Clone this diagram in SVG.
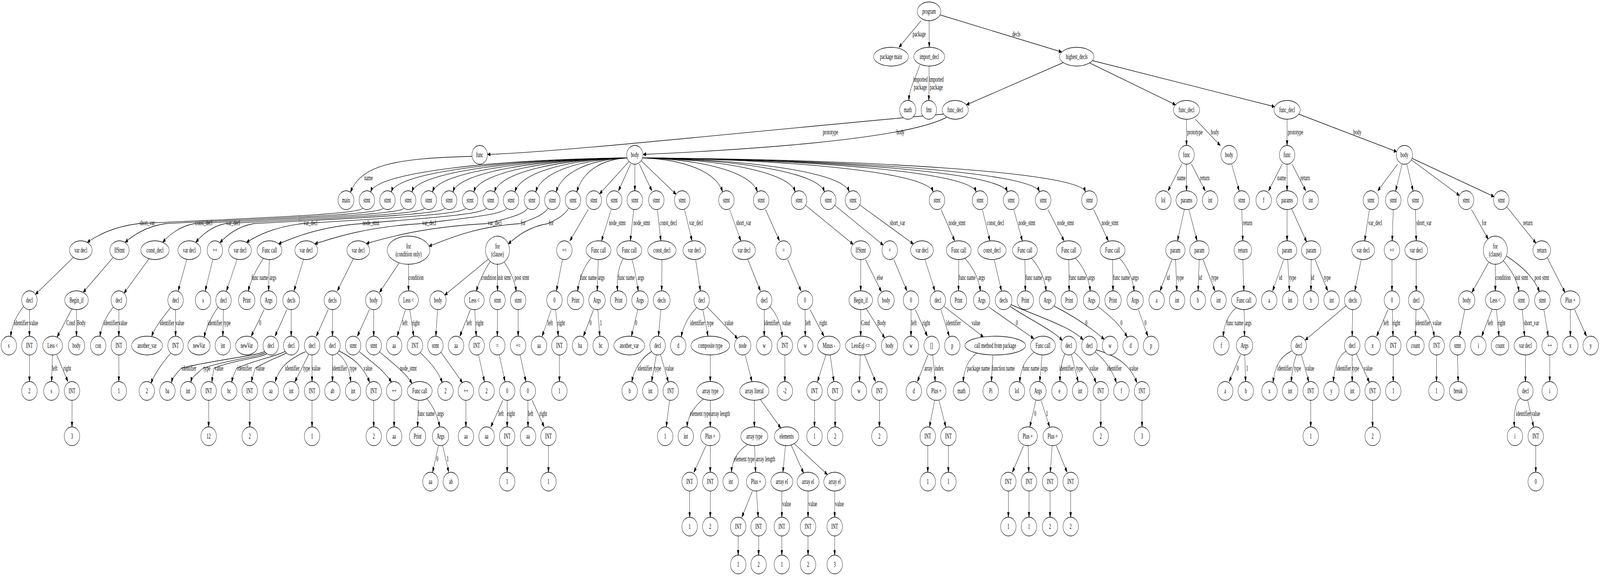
<svg xmlns="http://www.w3.org/2000/svg" width="7445" height="1476" viewBox="0 0 7445 1476" preserveAspectRatio="none">
<defs>
<marker id="a" markerWidth="14" markerHeight="10" refX="13" refY="4.67" orient="auto" markerUnits="userSpaceOnUse"><path d="M0,0 L13.3,4.67 L0,9.33 Z" fill="#000" stroke="#000" stroke-width="1"/></marker>
<style>
svg{width:100vw;height:100vh}
.node ellipse{fill:#fff;stroke:#000;stroke-width:1.33}
text{font-family:"Liberation Serif","Times New Roman",serif;font-size:18.67px;text-anchor:middle;fill:#000}
#edges path{fill:none;stroke:#000;stroke-width:1.33;marker-end:url(#a)}
</style>
</defs>
<rect width="7445" height="1476" fill="#fff"/>
<g id="edges">
<path d="M4286,53 L4183,121"/>
<path d="M4323,53 L4324,121"/>
<path d="M4374,38 L4940,133"/>
<path d="M4280,166 C4262,200 4232,222 4229,257"/>
<path d="M4323,169 L4322,257"/>
<path d="M4948,160 L4497,268"/>
<path d="M5070,161 L5470,268"/>
<path d="M5083,155 L5931,273"/>
<path d="M4390,292 C3600,330 2600,390 2269,395"/>
<path d="M4405,300 C4200,360 3400,385 2993,395"/>
<path d="M5521,305 L5521,372"/>
<path d="M5562,305 L5678,372"/>
<path d="M5989,305 L5989,372"/>
<path d="M6043,292 L6499,388"/>
<path d="M2197,400 C1850,405 1680,420 1631,492"/>
<path d="M5499,420 L5435,488"/>
<path d="M5521,420 L5521,488"/>
<path d="M5544,420 L5608,488"/>
<path d="M5731,420 L5766,488"/>
<path d="M5966,420 L5903,488"/>
<path d="M5989,420 L5989,488"/>
<path d="M6012,420 L6076,488"/>
<path d="M6503,420 L6411,488"/>
<path d="M6524,420 L6494,488"/>
<path d="M6546,420 L6575,488"/>
<path d="M6567,409 L6791,500"/>
<path d="M6570,405 L6952,503"/>
<path d="M2918,404 C2312,408 1752,440 1725,491"/>
<path d="M2918,404 C2360,408 1848,440 1821,491"/>
<path d="M2918,404 C2408,408 1944,440 1917,491"/>
<path d="M2918,404 C2456,408 2040,440 2013,491"/>
<path d="M2918,404 C2504,408 2135,440 2108,491"/>
<path d="M2918,404 C2552,408 2232,440 2205,491"/>
<path d="M2918,404 C2600,408 2328,440 2301,491"/>
<path d="M2918,404 C2648,408 2423,440 2396,491"/>
<path d="M2918,404 C2696,408 2520,440 2493,491"/>
<path d="M2918,404 C2744,408 2615,440 2588,491"/>
<path d="M2918,404 C2792,408 2711,440 2684,491"/>
<path d="M2927,413 L2790,496"/>
<path d="M2934,420 L2878,488"/>
<path d="M2954,420 L2954,488"/>
<path d="M2975,420 L3033,488"/>
<path d="M2983,411 L3146,497"/>
<path d="M2990,404 C3185,408 3335,440 3362,491"/>
<path d="M2990,404 C3266,408 3497,440 3524,491"/>
<path d="M2990,404 C3354,408 3673,440 3700,491"/>
<path d="M2990,404 C3422,408 3809,440 3836,491"/>
<path d="M2990,404 C3480,408 3924,440 3951,491"/>
<path d="M2990,404 C3675,408 4315,440 4342,491"/>
<path d="M2990,404 C3775,408 4515,440 4542,491"/>
<path d="M2990,404 C3848,408 4660,440 4687,491"/>
<path d="M2990,404 C3922,408 4809,440 4836,491"/>
<path d="M2990,404 C4030,408 5024,440 5051,491"/>
<path d="M1687,533 C1667,550 1070,560 645,572 C526,580 454,602 406,620"/>
<path d="M1783,533 C1763,550 1183,560 770,572 C676,580 620,602 582,620"/>
<path d="M1879,533 C1859,550 1302,560 904,572 C830,580 786,602 757,620"/>
<path d="M1975,533 C1955,550 1427,560 1048,572 C980,580 938,602 911,620"/>
<path d="M2070,533 C2050,550 1544,560 1180,572 C1102,580 1054,603 1023,621"/>
<path d="M2167,533 C2147,550 1720,560 1409,572 C1278,580 1199,602 1147,620"/>
<path d="M2263,533 C2243,550 1923,560 1683,572 C1490,580 1373,606 1296,624"/>
<path d="M2358,533 C2338,550 2128,560 1961,572 C1713,580 1564,606 1465,624"/>
<path d="M2455,533 C2435,550 2350,560 2266,572 C1986,580 1817,605 1705,623"/>
<path d="M2550,533 C2530,550 2479,560 2419,572 C2208,580 2081,612 1996,630"/>
<path d="M2646,533 C2626,550 2596,560 2550,572 C2458,580 2402,606 2365,624"/>
<path d="M2737,536 L2652,616"/>
<path d="M2844,536 L2799,616"/>
<path d="M2949,536 L2933,616"/>
<path d="M3059,536 L3075,616"/>
<path d="M3185,536 L3220,616"/>
<path d="M3395,536 L3447,616"/>
<path d="M3562,536 L3627,616"/>
<path d="M3748,525 L3970,625"/>
<path d="M3884,525 L4110,627"/>
<path d="M4000,524 L4250,624"/>
<path d="M4379,536 L4442,616"/>
<path d="M4571,536 L4606,616"/>
<path d="M4717,536 L4757,616"/>
<path d="M4876,536 L4951,616"/>
<path d="M5089,536 L5157,616"/>
<path d="M5778,536 L5783,616"/>
<path d="M6372,536 L6350,616"/>
<path d="M6483,536 L6478,616"/>
<path d="M6586,536 L6590,616"/>
<path d="M6847,536 L6925,612"/>
<path d="M7011,529 L7147,622"/>
<path d="M342,658 L165,753"/>
<path d="M110,783 C80,805 55,830 50,861"/>
<path d="M137,792 L137,860"/>
<path d="M137,908 L137,976"/>
<path d="M527,658 L387,748"/>
<path d="M335,790 L266,862"/>
<path d="M356,792 L356,860"/>
<path d="M244,908 L240,976"/>
<path d="M264,908 L316,976"/>
<path d="M335,1024 L335,1092"/>
<path d="M693,662 L577,750"/>
<path d="M527,785 C500,805 472,830 465,861"/>
<path d="M553,792 L553,860"/>
<path d="M553,908 L553,976"/>
<path d="M869,664 L829,744"/>
<path d="M796,785 C770,805 720,835 706,861"/>
<path d="M817,792 L817,860"/>
<path d="M797,902 C760,925 720,955 702,981"/>
<path d="M990,664 L955,744"/>
<path d="M1103,664 L1054,744"/>
<path d="M1015,785 C990,805 960,835 950,863"/>
<path d="M1040,792 L1037,860"/>
<path d="M1226,661 C1195,685 1165,720 1155,745"/>
<path d="M1253,664 L1250,744"/>
<path d="M1229,792 L1169,860"/>
<path d="M1412,664 L1368,744"/>
<path d="M1335,792 L1280,860"/>
<path d="M1355,792 L1355,860"/>
<path d="M1232,899 C1192,911 999,920 843,942 C825,954 803,964 798,979"/>
<path d="M1236,902 C1196,914 1061,920 944,942 C922,954 893,963 888,978"/>
<path d="M1242,905 C1202,917 1094,920 996,942 C992,954 989,963 986,978"/>
<path d="M1327,899 C1287,911 1191,920 1101,942 C1092,954 1083,963 1078,978"/>
<path d="M1332,903 C1300,913 1246,922 1188,942 C1181,954 1175,962 1170,977"/>
<path d="M971,1024 L971,1092"/>
<path d="M1162,1024 L1162,1092"/>
<path d="M1644,662 L1570,744"/>
<path d="M1527,792 L1472,860"/>
<path d="M1547,792 L1547,860"/>
<path d="M1420,900 C1340,920 1300,940 1280,977"/>
<path d="M1438,905 L1372,977"/>
<path d="M1452,908 L1452,976"/>
<path d="M1547,908 L1547,976"/>
<path d="M1568,903 C1600,915 1625,935 1632,977"/>
<path d="M1575,897 C1640,915 1690,935 1720,978"/>
<path d="M1452,1024 L1452,1092"/>
<path d="M1739,1024 L1739,1092"/>
<path d="M1858,672 L1766,748"/>
<path d="M1901,676 L1901,744"/>
<path d="M1719,792 L1663,860"/>
<path d="M1739,792 L1739,860"/>
<path d="M1672,900 C1730,925 1790,950 1822,978"/>
<path d="M1766,900 C1830,930 1890,955 1917,981"/>
<path d="M1887,792 L1848,860"/>
<path d="M1907,792 L1925,860"/>
<path d="M1955,902 C2000,925 2040,950 2058,979"/>
<path d="M1834,1024 L1834,1092"/>
<path d="M1947,1024 L1943,1092"/>
<path d="M1985,1019 C2010,1035 2035,1060 2046,1092"/>
<path d="M2040,1140 L2013,1208"/>
<path d="M2060,1140 L2088,1208"/>
<path d="M2272,663 L2069,755"/>
<path d="M2282,668 C2255,690 2230,720 2216,745"/>
<path d="M2315,676 L2315,744"/>
<path d="M2346,670 C2370,690 2395,715 2402,746"/>
<path d="M2036,792 L2028,860"/>
<path d="M2052,901 L2152,979"/>
<path d="M2168,1024 L2168,1092"/>
<path d="M2189,792 L2140,860"/>
<path d="M2209,792 L2216,860"/>
<path d="M2227,908 L2254,976"/>
<path d="M2315,792 L2314,860"/>
<path d="M2323,908 L2350,976"/>
<path d="M2340,1024 L2284,1092"/>
<path d="M2360,1024 L2360,1092"/>
<path d="M2360,1140 L2360,1208"/>
<path d="M2411,792 L2411,860"/>
<path d="M2420,908 L2447,976"/>
<path d="M2456,1024 L2457,1092"/>
<path d="M2476,1024 L2532,1092"/>
<path d="M2552,1140 L2552,1208"/>
<path d="M2617,664 L2589,744"/>
<path d="M2565,792 L2523,860"/>
<path d="M2585,792 L2598,860"/>
<path d="M2603,908 L2603,976"/>
<path d="M2750,661 C2720,680 2695,710 2688,745"/>
<path d="M2784,664 L2779,744"/>
<path d="M2762,792 L2715,860"/>
<path d="M2782,792 L2791,860"/>
<path d="M2900,662 C2878,682 2868,712 2874,744"/>
<path d="M2940,663 C2952,685 2962,715 2970,745"/>
<path d="M2968,792 L2938,860"/>
<path d="M3080,664 L3079,744"/>
<path d="M3075,792 L3064,860"/>
<path d="M3032,899 C2985,915 2950,945 2940,977"/>
<path d="M3054,908 L3032,976"/>
<path d="M3073,906 L3110,977"/>
<path d="M3116,1024 L3100,1092"/>
<path d="M3237,664 L3259,744"/>
<path d="M3243,786 C3210,805 3180,830 3170,862"/>
<path d="M3270,792 L3295,860"/>
<path d="M3290,785 L3432,866"/>
<path d="M3305,908 L3305,976"/>
<path d="M3272,1021 C3230,1040 3200,1065 3197,1092"/>
<path d="M3305,1024 L3305,1092"/>
<path d="M3285,1140 L3229,1208"/>
<path d="M3305,1140 L3305,1208"/>
<path d="M3209,1256 L3209,1323"/>
<path d="M3305,1256 L3305,1323"/>
<path d="M3467,908 L3499,976"/>
<path d="M3510,1024 L3510,1092"/>
<path d="M3538,1022 L3633,1095"/>
<path d="M3478,1137 C3430,1155 3405,1180 3404,1208"/>
<path d="M3511,1140 L3516,1208"/>
<path d="M3501,1256 L3452,1323"/>
<path d="M3520,1256 L3528,1323"/>
<path d="M3435,1371 L3435,1420"/>
<path d="M3530,1371 L3530,1420"/>
<path d="M3655,1140 L3643,1208"/>
<path d="M3681,1138 L3739,1210"/>
<path d="M3696,1135 L3850,1214"/>
<path d="M3638,1256 L3638,1323"/>
<path d="M3760,1256 L3760,1323"/>
<path d="M3884,1256 L3884,1323"/>
<path d="M3638,1371 L3638,1420"/>
<path d="M3760,1371 L3760,1420"/>
<path d="M3884,1371 L3884,1420"/>
<path d="M3480,664 L3538,744"/>
<path d="M3556,792 L3556,860"/>
<path d="M3582,784 C3610,800 3632,825 3640,862"/>
<path d="M3652,908 L3652,976"/>
<path d="M3665,664 L3727,744"/>
<path d="M3746,792 L3747,860"/>
<path d="M3769,792 L3834,860"/>
<path d="M3843,908 L3804,976"/>
<path d="M3863,908 L3880,976"/>
<path d="M3790,1024 L3790,1092"/>
<path d="M3886,1024 L3886,1092"/>
<path d="M4005,664 L4005,744"/>
<path d="M4027,664 L4101,746"/>
<path d="M4005,792 L4005,860"/>
<path d="M4030,789 L4117,865"/>
<path d="M4003,908 L3999,976"/>
<path d="M4023,908 L4074,976"/>
<path d="M4092,1024 L4092,1092"/>
<path d="M4159,664 L4220,744"/>
<path d="M4239,792 L4239,860"/>
<path d="M4259,792 L4315,860"/>
<path d="M4318,908 L4269,976"/>
<path d="M4340,908 L4352,976"/>
<path d="M4349,1024 L4325,1092"/>
<path d="M4369,1024 L4401,1092"/>
<path d="M4317,1140 L4317,1208"/>
<path d="M4413,1140 L4413,1208"/>
<path d="M4304,664 L4350,744"/>
<path d="M4378,792 L4417,860"/>
<path d="M4393,784 L4576,862"/>
<path d="M4545,903 C4505,920 4485,945 4482,977"/>
<path d="M4620,908 L4613,976"/>
<path d="M4461,664 L4460,744"/>
<path d="M4490,661 C4530,685 4555,715 4562,745"/>
<path d="M4600,785 L4810,866"/>
<path d="M4812,901 C4770,918 4748,945 4745,978"/>
<path d="M4849,908 L4838,976"/>
<path d="M4820,1024 L4792,1092"/>
<path d="M4844,1024 L4884,1092"/>
<path d="M4763,1140 L4711,1208"/>
<path d="M4784,1140 L4787,1208"/>
<path d="M4896,1140 L4887,1208"/>
<path d="M4915,1140 L4965,1208"/>
<path d="M4692,1256 L4692,1323"/>
<path d="M4788,1256 L4788,1323"/>
<path d="M4886,1256 L4886,1323"/>
<path d="M4982,1256 L4982,1323"/>
<path d="M4626,664 L4660,744"/>
<path d="M4700,784 C4800,820 4900,845 4943,871"/>
<path d="M4703,779 C4830,810 4980,835 5040,869"/>
<path d="M4955,905 C4940,925 4932,950 4932,976"/>
<path d="M4985,907 L5017,977"/>
<path d="M4998,901 C5040,920 5080,950 5100,979"/>
<path d="M5095,900 C5140,920 5175,945 5195,979"/>
<path d="M5100,895 C5200,910 5260,935 5290,979"/>
<path d="M5122,1024 L5122,1092"/>
<path d="M5314,1024 L5314,1092"/>
<path d="M4769,664 L4771,744"/>
<path d="M4800,661 C4840,685 4862,715 4868,745"/>
<path d="M4905,783 C5000,810 5080,840 5138,868"/>
<path d="M4973,664 L4975,744"/>
<path d="M5005,661 C5045,685 5068,715 5073,745"/>
<path d="M5108,784 C5170,810 5210,830 5245,862"/>
<path d="M5177,664 L5179,744"/>
<path d="M5210,661 C5250,685 5272,715 5277,745"/>
<path d="M5297,792 L5341,860"/>
<path d="M5511,536 L5479,616"/>
<path d="M5532,536 L5570,616"/>
<path d="M5453,664 L5398,744"/>
<path d="M5470,664 L5476,744"/>
<path d="M5580,664 L5575,744"/>
<path d="M5598,664 L5653,744"/>
<path d="M5783,664 L5788,744"/>
<path d="M5752,787 C5715,805 5695,830 5692,861"/>
<path d="M5789,792 L5791,860"/>
<path d="M5772,908 L5720,976"/>
<path d="M5792,908 L5796,976"/>
<path d="M5989,536 L5989,616"/>
<path d="M6010,534 L6080,619"/>
<path d="M5973,664 L5922,744"/>
<path d="M5992,664 L6000,744"/>
<path d="M6101,664 L6100,744"/>
<path d="M6119,664 L6178,744"/>
<path d="M6334,664 L6304,744"/>
<path d="M6264,782 L6073,870"/>
<path d="M6294,792 L6292,860"/>
<path d="M6010,898 C5955,912 5930,940 5924,979"/>
<path d="M6033,907 C6020,925 6012,950 6008,977"/>
<path d="M6055,907 L6090,977"/>
<path d="M6099,1024 L6099,1092"/>
<path d="M6263,898 C6230,910 6210,935 6204,977"/>
<path d="M6292,908 L6292,976"/>
<path d="M6311,905 L6372,978"/>
<path d="M6387,1024 L6387,1092"/>
<path d="M6477,664 L6477,744"/>
<path d="M6458,792 L6406,860"/>
<path d="M6479,792 L6482,860"/>
<path d="M6483,908 L6483,976"/>
<path d="M6590,664 L6590,744"/>
<path d="M6589,792 L6586,860"/>
<path d="M6613,786 C6640,800 6665,830 6674,861"/>
<path d="M6685,908 L6684,976"/>
<path d="M6926,672 L6849,748"/>
<path d="M6958,676 L6958,744"/>
<path d="M6996,667 C7030,690 7060,715 7068,746"/>
<path d="M7010,655 C7080,680 7140,710 7163,747"/>
<path d="M6816,792 L6791,860"/>
<path d="M6782,908 L6785,976"/>
<path d="M6942,792 L6895,860"/>
<path d="M6963,792 L6975,860"/>
<path d="M7083,792 L7094,860"/>
<path d="M7098,908 L7098,976"/>
<path d="M7074,1018 C7050,1030 7042,1060 7047,1092"/>
<path d="M7108,1023 L7136,1092"/>
<path d="M7146,1140 L7146,1208"/>
<path d="M7184,792 L7204,860"/>
<path d="M7211,908 L7211,976"/>
<path d="M7199,659 L7282,748"/>
<path d="M7307,792 L7307,860"/>
<path d="M7327,792 L7382,860"/>
<g id="edge-labels">
<text x="4277" y="93">package</text>
<text x="4729" y="93">decls</text>
<text x="4283" y="209">imported<tspan x="4283" dy="20">package</tspan></text>
<text x="4357" y="209">imported<tspan x="4357" dy="20">package</tspan></text>
<text x="3864" y="344">prototype</text>
<text x="4190" y="344">body</text>
<text x="5560" y="344">prototype</text>
<text x="5653" y="344">body</text>
<text x="6028" y="344">prototype</text>
<text x="6316" y="344">body</text>
<text x="1715" y="461">name</text>
<text x="5497" y="461">name</text>
<text x="5606" y="461">return</text>
<text x="5964" y="461">name</text>
<text x="6073" y="461">return</text>
<text x="685" y="576">short_var</text>
<text x="948" y="576">const_decl</text>
<text x="1085" y="576">var_decl</text>
<text x="1445" y="576">var_decl</text>
<text x="1726" y="576">node_stmt</text>
<text x="1997" y="576">var_decl</text>
<text x="2302" y="576">var_decl</text>
<text x="2434" y="576">for</text>
<text x="2565" y="576">for</text>
<text x="2872" y="576">node_stmt</text>
<text x="2986" y="576">node_stmt</text>
<text x="3110" y="576">const_decl</text>
<text x="3239" y="576">var_decl</text>
<text x="3460" y="576">short_var</text>
<text x="4176" y="576">short_var</text>
<text x="4453" y="576">node_stmt</text>
<text x="4632" y="576">const_decl</text>
<text x="4778" y="576">node_stmt</text>
<text x="4958" y="576">node_stmt</text>
<text x="5165" y="576">node_stmt</text>
<text x="5805" y="576">return</text>
<text x="6399" y="576">var_decl</text>
<text x="6626" y="576">short_var</text>
<text x="6906" y="576">for</text>
<text x="7109" y="576">return</text>
<text x="1209" y="716">func name</text>
<text x="1270" y="716">args</text>
<text x="1936" y="716">condition</text>
<text x="2274" y="716">condition</text>
<text x="2346" y="716">init stmt</text>
<text x="2428" y="716">post stmt</text>
<text x="2738" y="716">func name</text>
<text x="2798" y="716">args</text>
<text x="2914" y="716">func name</text>
<text x="2982" y="716">args</text>
<text x="4094" y="716">else</text>
<text x="4500" y="716">func name</text>
<text x="4568" y="716">args</text>
<text x="4810" y="716">func name</text>
<text x="4877" y="716">args</text>
<text x="5014" y="716">func name</text>
<text x="5079" y="716">args</text>
<text x="5218" y="716">func name</text>
<text x="5283" y="716">args</text>
<text x="5436" y="716">id</text>
<text x="5492" y="716">type</text>
<text x="5586" y="716">id</text>
<text x="5653" y="716">type</text>
<text x="5959" y="716">id</text>
<text x="6015" y="716">type</text>
<text x="6108" y="716">id</text>
<text x="6176" y="716">type</text>
<text x="6994" y="716">condition</text>
<text x="7080" y="716">init stmt</text>
<text x="7174" y="716">post stmt</text>
<text x="99" y="832">identifier</text>
<text x="157" y="832">value</text>
<text x="329" y="832">Cond</text>
<text x="378" y="832">Body</text>
<text x="516" y="832">identifier</text>
<text x="572" y="832">value</text>
<text x="777" y="832">identifier</text>
<text x="837" y="832">value</text>
<text x="1000" y="832">identifier</text>
<text x="1057" y="832">type</text>
<text x="1210" y="832">0</text>
<text x="1884" y="832">left</text>
<text x="1935" y="832">right</text>
<text x="2183" y="832">left</text>
<text x="2232" y="832">right</text>
<text x="2560" y="832">left</text>
<text x="2611" y="832">right</text>
<text x="2748" y="832">0</text>
<text x="2796" y="832">1</text>
<text x="2960" y="832">0</text>
<text x="3245" y="832">identifier</text>
<text x="3305" y="832">type</text>
<text x="3392" y="832">value</text>
<text x="3590" y="832">identifier</text>
<text x="3660" y="832">value</text>
<text x="3760" y="832">left</text>
<text x="3830" y="832">right</text>
<text x="4027" y="832">Cond</text>
<text x="4102" y="832">Body</text>
<text x="4253" y="832">left</text>
<text x="4310" y="832">right</text>
<text x="4436" y="832">identifier</text>
<text x="4541" y="832">value</text>
<text x="4732" y="832">0</text>
<text x="5055" y="832">0</text>
<text x="5218" y="832">0</text>
<text x="5330" y="832">0</text>
<text x="5746" y="832">func name</text>
<text x="5808" y="832">args</text>
<text x="6450" y="832">left</text>
<text x="6498" y="832">right</text>
<text x="6621" y="832">identifier</text>
<text x="6687" y="832">value</text>
<text x="6935" y="832">left</text>
<text x="6987" y="832">right</text>
<text x="7126" y="832">short_var</text>
<text x="255" y="948">left</text>
<text x="313" y="948">right</text>
<text x="879" y="948">identifier</text>
<text x="963" y="948">type</text>
<text x="1019" y="948">value</text>
<text x="1138" y="948">identifier</text>
<text x="1211" y="948">value</text>
<text x="1360" y="948">identifier</text>
<text x="1427" y="948">type</text>
<text x="1471" y="948">value</text>
<text x="1580" y="948">identifier</text>
<text x="1643" y="948">type</text>
<text x="1712" y="948">value</text>
<text x="1900" y="948">node_stmt</text>
<text x="3001" y="948">identifier</text>
<text x="3060" y="948">type</text>
<text x="3115" y="948">value</text>
<text x="4320" y="948">array</text>
<text x="4370" y="948">index</text>
<text x="4553" y="948">package name</text>
<text x="4668" y="948">function name</text>
<text x="4797" y="948">func name</text>
<text x="4860" y="948">args</text>
<text x="4963" y="948">identifier</text>
<text x="5023" y="948">type</text>
<text x="5090" y="948">value</text>
<text x="5185" y="948">identifier</text>
<text x="5276" y="948">value</text>
<text x="5759" y="948">0</text>
<text x="5803" y="948">1</text>
<text x="5977" y="948">identifier</text>
<text x="6037" y="948">type</text>
<text x="6095" y="948">value</text>
<text x="6252" y="948">identifier</text>
<text x="6308" y="948">type</text>
<text x="6366" y="948">value</text>
<text x="1983" y="1064">func name</text>
<text x="2050" y="1064">args</text>
<text x="2331" y="1064">left</text>
<text x="2378" y="1064">right</text>
<text x="2469" y="1064">left</text>
<text x="2528" y="1064">right</text>
<text x="3258" y="1064">element type</text>
<text x="3352" y="1064">array length</text>
<text x="4817" y="1064">0</text>
<text x="4872" y="1064">1</text>
<text x="7088" y="1064">identifier</text>
<text x="7146" y="1064">value</text>
<text x="2035" y="1180">0</text>
<text x="2083" y="1180">1</text>
<text x="3463" y="1180">element type</text>
<text x="3562" y="1180">array length</text>
<text x="3660" y="1295">value</text>
<text x="3782" y="1295">value</text>
<text x="3906" y="1295">value</text>
</g>
</g>
<g id="nodes">
<g id="n0" class="node"><ellipse cx="4323" cy="29" rx="55" ry="24"/><text x="4323" y="35">program</text></g>
<g id="n1" class="node"><ellipse cx="4146" cy="145" rx="81" ry="24"/><text x="4146" y="151">package main</text></g>
<g id="n2" class="node"><ellipse cx="4324" cy="145" rx="72" ry="24"/><text x="4324" y="151">import_decl</text></g>
<g id="n3" class="node"><ellipse cx="5010" cy="145" rx="80" ry="24"/><text x="5010" y="151">highest_decls</text></g>
<g id="n4" class="node"><ellipse cx="4224" cy="281" rx="38" ry="24"/><text x="4224" y="287">math</text></g>
<g id="n5" class="node"><ellipse cx="4322" cy="281" rx="36" ry="24"/><text x="4322" y="287">fmt</text></g>
<g id="n6" class="node"><ellipse cx="4445" cy="281" rx="61" ry="24"/><text x="4445" y="287">func_decl</text></g>
<g id="n7" class="node"><ellipse cx="5521" cy="281" rx="61" ry="24"/><text x="5521" y="287">func_decl</text></g>
<g id="n8" class="node"><ellipse cx="5989" cy="281" rx="61" ry="24"/><text x="5989" y="287">func_decl</text></g>
<g id="n9" class="node"><ellipse cx="2232" cy="396" rx="36" ry="24"/><text x="2232" y="402">func</text></g>
<g id="n10" class="node"><ellipse cx="2954" cy="396" rx="38" ry="24"/><text x="2954" y="402">body</text></g>
<g id="n11" class="node"><ellipse cx="5521" cy="396" rx="36" ry="24"/><text x="5521" y="402">func</text></g>
<g id="n12" class="node"><ellipse cx="5719" cy="396" rx="38" ry="24"/><text x="5719" y="402">body</text></g>
<g id="n13" class="node"><ellipse cx="5989" cy="396" rx="36" ry="24"/><text x="5989" y="402">func</text></g>
<g id="n14" class="node"><ellipse cx="6535" cy="396" rx="38" ry="24"/><text x="6535" y="402">body</text></g>
<g id="n15" class="node"><ellipse cx="1610" cy="512" rx="37" ry="24"/><text x="1610" y="518">main</text></g>
<g id="n16" class="node"><ellipse cx="1707" cy="512" rx="36" ry="24"/><text x="1707" y="518">stmt</text></g>
<g id="n17" class="node"><ellipse cx="1803" cy="512" rx="36" ry="24"/><text x="1803" y="518">stmt</text></g>
<g id="n18" class="node"><ellipse cx="1899" cy="512" rx="36" ry="24"/><text x="1899" y="518">stmt</text></g>
<g id="n19" class="node"><ellipse cx="1995" cy="512" rx="36" ry="24"/><text x="1995" y="518">stmt</text></g>
<g id="n20" class="node"><ellipse cx="2090" cy="512" rx="36" ry="24"/><text x="2090" y="518">stmt</text></g>
<g id="n21" class="node"><ellipse cx="2187" cy="512" rx="36" ry="24"/><text x="2187" y="518">stmt</text></g>
<g id="n22" class="node"><ellipse cx="2283" cy="512" rx="36" ry="24"/><text x="2283" y="518">stmt</text></g>
<g id="n23" class="node"><ellipse cx="2378" cy="512" rx="36" ry="24"/><text x="2378" y="518">stmt</text></g>
<g id="n24" class="node"><ellipse cx="2475" cy="512" rx="36" ry="24"/><text x="2475" y="518">stmt</text></g>
<g id="n25" class="node"><ellipse cx="2570" cy="512" rx="36" ry="24"/><text x="2570" y="518">stmt</text></g>
<g id="n26" class="node"><ellipse cx="2666" cy="512" rx="36" ry="24"/><text x="2666" y="518">stmt</text></g>
<g id="n27" class="node"><ellipse cx="2763" cy="512" rx="36" ry="24"/><text x="2763" y="518">stmt</text></g>
<g id="n28" class="node"><ellipse cx="2858" cy="512" rx="36" ry="24"/><text x="2858" y="518">stmt</text></g>
<g id="n29" class="node"><ellipse cx="2954" cy="512" rx="36" ry="24"/><text x="2954" y="518">stmt</text></g>
<g id="n30" class="node"><ellipse cx="3054" cy="512" rx="36" ry="24"/><text x="3054" y="518">stmt</text></g>
<g id="n31" class="node"><ellipse cx="3174" cy="512" rx="36" ry="24"/><text x="3174" y="518">stmt</text></g>
<g id="n32" class="node"><ellipse cx="3380" cy="512" rx="36" ry="24"/><text x="3380" y="518">stmt</text></g>
<g id="n33" class="node"><ellipse cx="3542" cy="512" rx="36" ry="24"/><text x="3542" y="518">stmt</text></g>
<g id="n34" class="node"><ellipse cx="3718" cy="512" rx="36" ry="24"/><text x="3718" y="518">stmt</text></g>
<g id="n35" class="node"><ellipse cx="3854" cy="512" rx="36" ry="24"/><text x="3854" y="518">stmt</text></g>
<g id="n36" class="node"><ellipse cx="3969" cy="512" rx="36" ry="24"/><text x="3969" y="518">stmt</text></g>
<g id="n37" class="node"><ellipse cx="4360" cy="512" rx="36" ry="24"/><text x="4360" y="518">stmt</text></g>
<g id="n38" class="node"><ellipse cx="4560" cy="512" rx="36" ry="24"/><text x="4560" y="518">stmt</text></g>
<g id="n39" class="node"><ellipse cx="4705" cy="512" rx="36" ry="24"/><text x="4705" y="518">stmt</text></g>
<g id="n40" class="node"><ellipse cx="4854" cy="512" rx="36" ry="24"/><text x="4854" y="518">stmt</text></g>
<g id="n41" class="node"><ellipse cx="5069" cy="512" rx="36" ry="24"/><text x="5069" y="518">stmt</text></g>
<g id="n42" class="node"><ellipse cx="5413" cy="512" rx="36" ry="24"/><text x="5413" y="518">lol</text></g>
<g id="n43" class="node"><ellipse cx="5521" cy="512" rx="49" ry="24"/><text x="5521" y="518">params</text></g>
<g id="n44" class="node"><ellipse cx="5631" cy="512" rx="36" ry="24"/><text x="5631" y="518">int</text></g>
<g id="n45" class="node"><ellipse cx="5778" cy="512" rx="36" ry="24"/><text x="5778" y="518">stmt</text></g>
<g id="n46" class="node"><ellipse cx="5880" cy="512" rx="36" ry="24"/><text x="5880" y="518">f</text></g>
<g id="n47" class="node"><ellipse cx="5989" cy="512" rx="49" ry="24"/><text x="5989" y="518">params</text></g>
<g id="n48" class="node"><ellipse cx="6099" cy="512" rx="36" ry="24"/><text x="6099" y="518">int</text></g>
<g id="n49" class="node"><ellipse cx="6379" cy="512" rx="36" ry="24"/><text x="6379" y="518">stmt</text></g>
<g id="n50" class="node"><ellipse cx="6483" cy="512" rx="36" ry="24"/><text x="6483" y="518">stmt</text></g>
<g id="n51" class="node"><ellipse cx="6586" cy="512" rx="36" ry="24"/><text x="6586" y="518">stmt</text></g>
<g id="n52" class="node"><ellipse cx="6822" cy="512" rx="36" ry="24"/><text x="6822" y="518">stmt</text></g>
<g id="n53" class="node"><ellipse cx="6986" cy="512" rx="36" ry="24"/><text x="6986" y="518">stmt</text></g>
<g id="n54" class="node"><ellipse cx="376" cy="640" rx="53" ry="24"/><text x="376" y="646">var decl</text></g>
<g id="n55" class="node"><ellipse cx="137" cy="768" rx="36" ry="24"/><text x="137" y="774">decl</text></g>
<g id="n56" class="node"><ellipse cx="41" cy="884" rx="36" ry="24"/><text x="41" y="890">s</text></g>
<g id="n57" class="node"><ellipse cx="137" cy="884" rx="36" ry="24"/><text x="137" y="890">INT</text></g>
<g id="n58" class="node"><ellipse cx="137" cy="1000" rx="36" ry="24"/><text x="137" y="1006">2</text></g>
<g id="n59" class="node"><ellipse cx="556" cy="640" rx="45" ry="24"/><text x="556" y="646">IfStmt</text></g>
<g id="n60" class="node"><ellipse cx="356" cy="768" rx="55" ry="24"/><text x="356" y="774">Begin_if</text></g>
<g id="n61" class="node"><ellipse cx="245" cy="884" rx="46" ry="24"/><text x="245" y="890">Less &lt;</text></g>
<g id="n62" class="node"><ellipse cx="356" cy="884" rx="38" ry="24"/><text x="356" y="890">body</text></g>
<g id="n63" class="node"><ellipse cx="239" cy="1000" rx="36" ry="24"/><text x="239" y="1006">s</text></g>
<g id="n64" class="node"><ellipse cx="335" cy="1000" rx="36" ry="24"/><text x="335" y="1006">INT</text></g>
<g id="n65" class="node"><ellipse cx="335" cy="1116" rx="36" ry="24"/><text x="335" y="1122">3</text></g>
<g id="n66" class="node"><ellipse cx="721" cy="640" rx="66" ry="24"/><text x="721" y="646">const_decl</text></g>
<g id="n67" class="node"><ellipse cx="553" cy="768" rx="36" ry="24"/><text x="553" y="774">decl</text></g>
<g id="n68" class="node"><ellipse cx="457" cy="884" rx="36" ry="24"/><text x="457" y="890">con</text></g>
<g id="n69" class="node"><ellipse cx="553" cy="884" rx="36" ry="24"/><text x="553" y="890">INT</text></g>
<g id="n70" class="node"><ellipse cx="553" cy="1000" rx="36" ry="24"/><text x="553" y="1006">1</text></g>
<g id="n71" class="node"><ellipse cx="881" cy="640" rx="53" ry="24"/><text x="881" y="646">var decl</text></g>
<g id="n72" class="node"><ellipse cx="817" cy="768" rx="36" ry="24"/><text x="817" y="774">decl</text></g>
<g id="n73" class="node"><ellipse cx="684" cy="884" rx="72" ry="24"/><text x="684" y="890">another_var</text></g>
<g id="n74" class="node"><ellipse cx="817" cy="884" rx="36" ry="24"/><text x="817" y="890">INT</text></g>
<g id="n75" class="node"><ellipse cx="683" cy="1000" rx="36" ry="24"/><text x="683" y="1006">2</text></g>
<g id="n76" class="node"><ellipse cx="1000" cy="640" rx="36" ry="24"/><text x="1000" y="646">++</text></g>
<g id="n77" class="node"><ellipse cx="945" cy="768" rx="36" ry="24"/><text x="945" y="774">s</text></g>
<g id="n78" class="node"><ellipse cx="1117" cy="640" rx="53" ry="24"/><text x="1117" y="646">var decl</text></g>
<g id="n79" class="node"><ellipse cx="1040" cy="768" rx="36" ry="24"/><text x="1040" y="774">decl</text></g>
<g id="n80" class="node"><ellipse cx="926" cy="884" rx="52" ry="24"/><text x="926" y="890">newVar</text></g>
<g id="n81" class="node"><ellipse cx="1037" cy="884" rx="36" ry="24"/><text x="1037" y="890">int</text></g>
<g id="n82" class="node"><ellipse cx="1254" cy="640" rx="58" ry="24"/><text x="1254" y="646">Func call</text></g>
<g id="n83" class="node"><ellipse cx="1148" cy="768" rx="38" ry="24"/><text x="1148" y="774">Print</text></g>
<g id="n84" class="node"><ellipse cx="1250" cy="768" rx="38" ry="24"/><text x="1250" y="774">Args</text></g>
<g id="n85" class="node"><ellipse cx="1148" cy="884" rx="52" ry="24"/><text x="1148" y="890">newVar</text></g>
<g id="n86" class="node"><ellipse cx="1425" cy="640" rx="53" ry="24"/><text x="1425" y="646">var decl</text></g>
<g id="n87" class="node"><ellipse cx="1355" cy="768" rx="39" ry="24"/><text x="1355" y="774">decls</text></g>
<g id="n88" class="node"><ellipse cx="1260" cy="884" rx="36" ry="24"/><text x="1260" y="890">decl</text></g>
<g id="n89" class="node"><ellipse cx="1355" cy="884" rx="36" ry="24"/><text x="1355" y="890">decl</text></g>
<g id="n90" class="node"><ellipse cx="779" cy="1000" rx="36" ry="24"/><text x="779" y="1006">ba</text></g>
<g id="n91" class="node"><ellipse cx="875" cy="1000" rx="36" ry="24"/><text x="875" y="1006">int</text></g>
<g id="n92" class="node"><ellipse cx="971" cy="1000" rx="36" ry="24"/><text x="971" y="1006">INT</text></g>
<g id="n93" class="node"><ellipse cx="971" cy="1116" rx="36" ry="24"/><text x="971" y="1122">12</text></g>
<g id="n94" class="node"><ellipse cx="1066" cy="1000" rx="36" ry="24"/><text x="1066" y="1006">bc</text></g>
<g id="n95" class="node"><ellipse cx="1162" cy="1000" rx="36" ry="24"/><text x="1162" y="1006">INT</text></g>
<g id="n96" class="node"><ellipse cx="1162" cy="1116" rx="36" ry="24"/><text x="1162" y="1122">2</text></g>
<g id="n97" class="node"><ellipse cx="1667" cy="640" rx="53" ry="24"/><text x="1667" y="646">var decl</text></g>
<g id="n98" class="node"><ellipse cx="1547" cy="768" rx="39" ry="24"/><text x="1547" y="774">decls</text></g>
<g id="n99" class="node"><ellipse cx="1452" cy="884" rx="36" ry="24"/><text x="1452" y="890">decl</text></g>
<g id="n100" class="node"><ellipse cx="1547" cy="884" rx="36" ry="24"/><text x="1547" y="890">decl</text></g>
<g id="n101" class="node"><ellipse cx="1260" cy="1000" rx="36" ry="24"/><text x="1260" y="1006">aa</text></g>
<g id="n102" class="node"><ellipse cx="1355" cy="1000" rx="36" ry="24"/><text x="1355" y="1006">int</text></g>
<g id="n103" class="node"><ellipse cx="1452" cy="1000" rx="36" ry="24"/><text x="1452" y="1006">INT</text></g>
<g id="n104" class="node"><ellipse cx="1452" cy="1116" rx="36" ry="24"/><text x="1452" y="1122">1</text></g>
<g id="n105" class="node"><ellipse cx="1547" cy="1000" rx="36" ry="24"/><text x="1547" y="1006">ab</text></g>
<g id="n106" class="node"><ellipse cx="1643" cy="1000" rx="36" ry="24"/><text x="1643" y="1006">int</text></g>
<g id="n107" class="node"><ellipse cx="1739" cy="1000" rx="36" ry="24"/><text x="1739" y="1006">INT</text></g>
<g id="n108" class="node"><ellipse cx="1739" cy="1116" rx="36" ry="24"/><text x="1739" y="1122">2</text></g>
<g id="n109" class="node"><ellipse cx="1901" cy="640" rx="99" ry="36"/><text x="1901" y="636">for<tspan x="1901" dy="20">(condition only)</tspan></text></g>
<g id="n110" class="node"><ellipse cx="1739" cy="768" rx="38" ry="24"/><text x="1739" y="774">body</text></g>
<g id="n111" class="node"><ellipse cx="1901" cy="768" rx="46" ry="24"/><text x="1901" y="774">Less &lt;</text></g>
<g id="n112" class="node"><ellipse cx="1643" cy="884" rx="36" ry="24"/><text x="1643" y="890">stmt</text></g>
<g id="n113" class="node"><ellipse cx="1739" cy="884" rx="36" ry="24"/><text x="1739" y="890">stmt</text></g>
<g id="n114" class="node"><ellipse cx="1834" cy="884" rx="36" ry="24"/><text x="1834" y="890">aa</text></g>
<g id="n115" class="node"><ellipse cx="1931" cy="884" rx="36" ry="24"/><text x="1931" y="890">INT</text></g>
<g id="n116" class="node"><ellipse cx="1834" cy="1000" rx="36" ry="24"/><text x="1834" y="1006">++</text></g>
<g id="n117" class="node"><ellipse cx="1953" cy="1000" rx="58" ry="24"/><text x="1953" y="1006">Func call</text></g>
<g id="n118" class="node"><ellipse cx="2073" cy="1000" rx="36" ry="24"/><text x="2073" y="1006">2</text></g>
<g id="n119" class="node"><ellipse cx="1834" cy="1116" rx="36" ry="24"/><text x="1834" y="1122">aa</text></g>
<g id="n120" class="node"><ellipse cx="1943" cy="1116" rx="38" ry="24"/><text x="1943" y="1122">Print</text></g>
<g id="n121" class="node"><ellipse cx="2050" cy="1116" rx="38" ry="24"/><text x="2050" y="1122">Args</text></g>
<g id="n122" class="node"><ellipse cx="2003" cy="1232" rx="36" ry="24"/><text x="2003" y="1238">aa</text></g>
<g id="n123" class="node"><ellipse cx="2098" cy="1232" rx="36" ry="24"/><text x="2098" y="1238">ab</text></g>
<g id="n124" class="node"><ellipse cx="2315" cy="640" rx="56" ry="36"/><text x="2315" y="636">for<tspan x="2315" dy="20">(clause)</tspan></text></g>
<g id="n125" class="node"><ellipse cx="2038" cy="768" rx="38" ry="24"/><text x="2038" y="774">body</text></g>
<g id="n126" class="node"><ellipse cx="2207" cy="768" rx="46" ry="24"/><text x="2207" y="774">Less &lt;</text></g>
<g id="n127" class="node"><ellipse cx="2315" cy="768" rx="36" ry="24"/><text x="2315" y="774">stmt</text></g>
<g id="n128" class="node"><ellipse cx="2411" cy="768" rx="36" ry="24"/><text x="2411" y="774">stmt</text></g>
<g id="n129" class="node"><ellipse cx="2026" cy="884" rx="36" ry="24"/><text x="2026" y="890">stmt</text></g>
<g id="n130" class="node"><ellipse cx="2122" cy="884" rx="36" ry="24"/><text x="2122" y="890">aa</text></g>
<g id="n131" class="node"><ellipse cx="2218" cy="884" rx="36" ry="24"/><text x="2218" y="890">INT</text></g>
<g id="n132" class="node"><ellipse cx="2314" cy="884" rx="36" ry="24"/><text x="2314" y="890">=</text></g>
<g id="n133" class="node"><ellipse cx="2411" cy="884" rx="36" ry="24"/><text x="2411" y="890">+=</text></g>
<g id="n134" class="node"><ellipse cx="2168" cy="1000" rx="36" ry="24"/><text x="2168" y="1006">++</text></g>
<g id="n135" class="node"><ellipse cx="2264" cy="1000" rx="36" ry="24"/><text x="2264" y="1006">2</text></g>
<g id="n136" class="node"><ellipse cx="2360" cy="1000" rx="36" ry="24"/><text x="2360" y="1006">0</text></g>
<g id="n137" class="node"><ellipse cx="2456" cy="1000" rx="36" ry="24"/><text x="2456" y="1006">0</text></g>
<g id="n138" class="node"><ellipse cx="2168" cy="1116" rx="36" ry="24"/><text x="2168" y="1122">aa</text></g>
<g id="n139" class="node"><ellipse cx="2264" cy="1116" rx="36" ry="24"/><text x="2264" y="1122">aa</text></g>
<g id="n140" class="node"><ellipse cx="2360" cy="1116" rx="36" ry="24"/><text x="2360" y="1122">INT</text></g>
<g id="n141" class="node"><ellipse cx="2457" cy="1116" rx="36" ry="24"/><text x="2457" y="1122">aa</text></g>
<g id="n142" class="node"><ellipse cx="2552" cy="1116" rx="36" ry="24"/><text x="2552" y="1122">INT</text></g>
<g id="n143" class="node"><ellipse cx="2360" cy="1232" rx="36" ry="24"/><text x="2360" y="1238">1</text></g>
<g id="n144" class="node"><ellipse cx="2552" cy="1232" rx="36" ry="24"/><text x="2552" y="1238">1</text></g>
<g id="n145" class="node"><ellipse cx="2626" cy="640" rx="36" ry="24"/><text x="2626" y="646">+=</text></g>
<g id="n146" class="node"><ellipse cx="2580" cy="768" rx="36" ry="24"/><text x="2580" y="774">0</text></g>
<g id="n147" class="node"><ellipse cx="2508" cy="884" rx="36" ry="24"/><text x="2508" y="890">aa</text></g>
<g id="n148" class="node"><ellipse cx="2603" cy="884" rx="36" ry="24"/><text x="2603" y="890">INT</text></g>
<g id="n149" class="node"><ellipse cx="2603" cy="1000" rx="36" ry="24"/><text x="2603" y="1006">1</text></g>
<g id="n150" class="node"><ellipse cx="2785" cy="640" rx="58" ry="24"/><text x="2785" y="646">Func call</text></g>
<g id="n151" class="node"><ellipse cx="2678" cy="768" rx="38" ry="24"/><text x="2678" y="774">Print</text></g>
<g id="n152" class="node"><ellipse cx="2778" cy="768" rx="38" ry="24"/><text x="2778" y="774">Args</text></g>
<g id="n153" class="node"><ellipse cx="2699" cy="884" rx="36" ry="24"/><text x="2699" y="890">ba</text></g>
<g id="n154" class="node"><ellipse cx="2795" cy="884" rx="36" ry="24"/><text x="2795" y="890">bc</text></g>
<g id="n155" class="node"><ellipse cx="2928" cy="640" rx="58" ry="24"/><text x="2928" y="646">Func call</text></g>
<g id="n156" class="node"><ellipse cx="2878" cy="768" rx="38" ry="24"/><text x="2878" y="774">Print</text></g>
<g id="n157" class="node"><ellipse cx="2978" cy="768" rx="38" ry="24"/><text x="2978" y="774">Args</text></g>
<g id="n158" class="node"><ellipse cx="2928" cy="884" rx="72" ry="24"/><text x="2928" y="890">another_var</text></g>
<g id="n159" class="node"><ellipse cx="3080" cy="640" rx="66" ry="24"/><text x="3080" y="646">const_decl</text></g>
<g id="n160" class="node"><ellipse cx="3079" cy="768" rx="39" ry="24"/><text x="3079" y="774">decls</text></g>
<g id="n161" class="node"><ellipse cx="3060" cy="884" rx="36" ry="24"/><text x="3060" y="890">decl</text></g>
<g id="n162" class="node"><ellipse cx="2930" cy="1000" rx="36" ry="24"/><text x="2930" y="1006">b</text></g>
<g id="n163" class="node"><ellipse cx="3026" cy="1000" rx="36" ry="24"/><text x="3026" y="1006">int</text></g>
<g id="n164" class="node"><ellipse cx="3121" cy="1000" rx="36" ry="24"/><text x="3121" y="1006">INT</text></g>
<g id="n165" class="node"><ellipse cx="3095" cy="1116" rx="36" ry="24"/><text x="3095" y="1122">1</text></g>
<g id="n166" class="node"><ellipse cx="3231" cy="640" rx="53" ry="24"/><text x="3231" y="646">var decl</text></g>
<g id="n167" class="node"><ellipse cx="3265" cy="768" rx="36" ry="24"/><text x="3265" y="774">decl</text></g>
<g id="n168" class="node"><ellipse cx="3156" cy="884" rx="36" ry="24"/><text x="3156" y="890">d</text></g>
<g id="n169" class="node"><ellipse cx="3305" cy="884" rx="90" ry="24"/><text x="3305" y="890">composite type</text></g>
<g id="n170" class="node"><ellipse cx="3456" cy="884" rx="38" ry="24"/><text x="3456" y="890">node</text></g>
<g id="n171" class="node"><ellipse cx="3305" cy="1000" rx="63" ry="24"/><text x="3305" y="1006">array type</text></g>
<g id="n172" class="node"><ellipse cx="3510" cy="1000" rx="68" ry="24"/><text x="3510" y="1006">array literal</text></g>
<g id="n173" class="node"><ellipse cx="3191" cy="1116" rx="36" ry="24"/><text x="3191" y="1122">int</text></g>
<g id="n174" class="node"><ellipse cx="3305" cy="1116" rx="45" ry="24"/><text x="3305" y="1122">Plus +</text></g>
<g id="n175" class="node"><ellipse cx="3510" cy="1116" rx="63" ry="24"/><text x="3510" y="1122">array type</text></g>
<g id="n176" class="node"><ellipse cx="3660" cy="1116" rx="57" ry="24"/><text x="3660" y="1122">elements</text></g>
<g id="n177" class="node"><ellipse cx="3209" cy="1232" rx="36" ry="24"/><text x="3209" y="1238">INT</text></g>
<g id="n178" class="node"><ellipse cx="3305" cy="1232" rx="36" ry="24"/><text x="3305" y="1238">INT</text></g>
<g id="n179" class="node"><ellipse cx="3400" cy="1232" rx="36" ry="24"/><text x="3400" y="1238">int</text></g>
<g id="n180" class="node"><ellipse cx="3518" cy="1232" rx="45" ry="24"/><text x="3518" y="1238">Plus +</text></g>
<g id="n181" class="node"><ellipse cx="3638" cy="1232" rx="51" ry="24"/><text x="3638" y="1238">array el</text></g>
<g id="n182" class="node"><ellipse cx="3760" cy="1232" rx="51" ry="24"/><text x="3760" y="1238">array el</text></g>
<g id="n183" class="node"><ellipse cx="3884" cy="1232" rx="51" ry="24"/><text x="3884" y="1238">array el</text></g>
<g id="n184" class="node"><ellipse cx="3209" cy="1347" rx="36" ry="24"/><text x="3209" y="1353">1</text></g>
<g id="n185" class="node"><ellipse cx="3305" cy="1347" rx="36" ry="24"/><text x="3305" y="1353">2</text></g>
<g id="n186" class="node"><ellipse cx="3435" cy="1347" rx="36" ry="24"/><text x="3435" y="1353">INT</text></g>
<g id="n187" class="node"><ellipse cx="3530" cy="1347" rx="36" ry="24"/><text x="3530" y="1353">INT</text></g>
<g id="n188" class="node"><ellipse cx="3638" cy="1347" rx="36" ry="24"/><text x="3638" y="1353">INT</text></g>
<g id="n189" class="node"><ellipse cx="3760" cy="1347" rx="36" ry="24"/><text x="3760" y="1353">INT</text></g>
<g id="n190" class="node"><ellipse cx="3884" cy="1347" rx="36" ry="24"/><text x="3884" y="1353">INT</text></g>
<g id="n191" class="node"><ellipse cx="3435" cy="1444" rx="36" ry="24"/><text x="3435" y="1450">1</text></g>
<g id="n192" class="node"><ellipse cx="3530" cy="1444" rx="36" ry="24"/><text x="3530" y="1450">2</text></g>
<g id="n193" class="node"><ellipse cx="3638" cy="1444" rx="36" ry="24"/><text x="3638" y="1450">1</text></g>
<g id="n194" class="node"><ellipse cx="3760" cy="1444" rx="36" ry="24"/><text x="3760" y="1450">2</text></g>
<g id="n195" class="node"><ellipse cx="3884" cy="1444" rx="36" ry="24"/><text x="3884" y="1450">3</text></g>
<g id="n196" class="node"><ellipse cx="3462" cy="640" rx="53" ry="24"/><text x="3462" y="646">var decl</text></g>
<g id="n197" class="node"><ellipse cx="3556" cy="768" rx="36" ry="24"/><text x="3556" y="774">decl</text></g>
<g id="n198" class="node"><ellipse cx="3556" cy="884" rx="36" ry="24"/><text x="3556" y="890">w</text></g>
<g id="n199" class="node"><ellipse cx="3652" cy="884" rx="36" ry="24"/><text x="3652" y="890">INT</text></g>
<g id="n200" class="node"><ellipse cx="3652" cy="1000" rx="36" ry="24"/><text x="3652" y="1006">-2</text></g>
<g id="n201" class="node"><ellipse cx="3646" cy="640" rx="36" ry="24"/><text x="3646" y="646">=</text></g>
<g id="n202" class="node"><ellipse cx="3746" cy="768" rx="36" ry="24"/><text x="3746" y="774">0</text></g>
<g id="n203" class="node"><ellipse cx="3747" cy="884" rx="36" ry="24"/><text x="3747" y="890">w</text></g>
<g id="n204" class="node"><ellipse cx="3857" cy="884" rx="52" ry="24"/><text x="3857" y="890">Minus -</text></g>
<g id="n205" class="node"><ellipse cx="3790" cy="1000" rx="36" ry="24"/><text x="3790" y="1006">INT</text></g>
<g id="n206" class="node"><ellipse cx="3886" cy="1000" rx="36" ry="24"/><text x="3886" y="1006">INT</text></g>
<g id="n207" class="node"><ellipse cx="3790" cy="1116" rx="36" ry="24"/><text x="3790" y="1122">1</text></g>
<g id="n208" class="node"><ellipse cx="3886" cy="1116" rx="36" ry="24"/><text x="3886" y="1122">2</text></g>
<g id="n209" class="node"><ellipse cx="4005" cy="640" rx="45" ry="24"/><text x="4005" y="646">IfStmt</text></g>
<g id="n210" class="node"><ellipse cx="4005" cy="768" rx="55" ry="24"/><text x="4005" y="774">Begin_if</text></g>
<g id="n211" class="node"><ellipse cx="4123" cy="768" rx="38" ry="24"/><text x="4123" y="774">body</text></g>
<g id="n212" class="node"><ellipse cx="4005" cy="884" rx="71" ry="24"/><text x="4005" y="890">LessEql &lt;=</text></g>
<g id="n213" class="node"><ellipse cx="4139" cy="884" rx="38" ry="24"/><text x="4139" y="890">body</text></g>
<g id="n214" class="node"><ellipse cx="3997" cy="1000" rx="36" ry="24"/><text x="3997" y="1006">w</text></g>
<g id="n215" class="node"><ellipse cx="4092" cy="1000" rx="36" ry="24"/><text x="4092" y="1006">INT</text></g>
<g id="n216" class="node"><ellipse cx="4092" cy="1116" rx="36" ry="24"/><text x="4092" y="1122">2</text></g>
<g id="n217" class="node"><ellipse cx="4140" cy="640" rx="36" ry="24"/><text x="4140" y="646">=</text></g>
<g id="n218" class="node"><ellipse cx="4239" cy="768" rx="36" ry="24"/><text x="4239" y="774">0</text></g>
<g id="n219" class="node"><ellipse cx="4239" cy="884" rx="36" ry="24"/><text x="4239" y="890">w</text></g>
<g id="n220" class="node"><ellipse cx="4335" cy="884" rx="36" ry="24"/><text x="4335" y="890">[]</text></g>
<g id="n221" class="node"><ellipse cx="4252" cy="1000" rx="36" ry="24"/><text x="4252" y="1006">d</text></g>
<g id="n222" class="node"><ellipse cx="4357" cy="1000" rx="45" ry="24"/><text x="4357" y="1006">Plus +</text></g>
<g id="n223" class="node"><ellipse cx="4317" cy="1116" rx="36" ry="24"/><text x="4317" y="1122">INT</text></g>
<g id="n224" class="node"><ellipse cx="4413" cy="1116" rx="36" ry="24"/><text x="4413" y="1122">INT</text></g>
<g id="n225" class="node"><ellipse cx="4317" cy="1232" rx="36" ry="24"/><text x="4317" y="1238">1</text></g>
<g id="n226" class="node"><ellipse cx="4413" cy="1232" rx="36" ry="24"/><text x="4413" y="1238">1</text></g>
<g id="n227" class="node"><ellipse cx="4290" cy="640" rx="53" ry="24"/><text x="4290" y="646">var decl</text></g>
<g id="n228" class="node"><ellipse cx="4364" cy="768" rx="36" ry="24"/><text x="4364" y="774">decl</text></g>
<g id="n229" class="node"><ellipse cx="4431" cy="884" rx="36" ry="24"/><text x="4431" y="890">p</text></g>
<g id="n230" class="node"><ellipse cx="4631" cy="884" rx="141" ry="24"/><text x="4631" y="890">call method from package</text></g>
<g id="n231" class="node"><ellipse cx="4474" cy="1000" rx="38" ry="24"/><text x="4474" y="1006">math</text></g>
<g id="n232" class="node"><ellipse cx="4610" cy="1000" rx="36" ry="24"/><text x="4610" y="1006">Pi</text></g>
<g id="n233" class="node"><ellipse cx="4461" cy="640" rx="58" ry="24"/><text x="4461" y="646">Func call</text></g>
<g id="n234" class="node"><ellipse cx="4460" cy="768" rx="38" ry="24"/><text x="4460" y="774">Print</text></g>
<g id="n235" class="node"><ellipse cx="4568" cy="768" rx="38" ry="24"/><text x="4568" y="774">Args</text></g>
<g id="n236" class="node"><ellipse cx="4853" cy="884" rx="58" ry="24"/><text x="4853" y="890">Func call</text></g>
<g id="n237" class="node"><ellipse cx="4732" cy="1000" rx="36" ry="24"/><text x="4732" y="1006">lol</text></g>
<g id="n238" class="node"><ellipse cx="4830" cy="1000" rx="38" ry="24"/><text x="4830" y="1006">Args</text></g>
<g id="n239" class="node"><ellipse cx="4782" cy="1116" rx="45" ry="24"/><text x="4782" y="1122">Plus +</text></g>
<g id="n240" class="node"><ellipse cx="4898" cy="1116" rx="45" ry="24"/><text x="4898" y="1122">Plus +</text></g>
<g id="n241" class="node"><ellipse cx="4692" cy="1232" rx="36" ry="24"/><text x="4692" y="1238">INT</text></g>
<g id="n242" class="node"><ellipse cx="4788" cy="1232" rx="36" ry="24"/><text x="4788" y="1238">INT</text></g>
<g id="n243" class="node"><ellipse cx="4886" cy="1232" rx="36" ry="24"/><text x="4886" y="1238">INT</text></g>
<g id="n244" class="node"><ellipse cx="4982" cy="1232" rx="36" ry="24"/><text x="4982" y="1238">INT</text></g>
<g id="n245" class="node"><ellipse cx="4692" cy="1347" rx="36" ry="24"/><text x="4692" y="1353">1</text></g>
<g id="n246" class="node"><ellipse cx="4788" cy="1347" rx="36" ry="24"/><text x="4788" y="1353">1</text></g>
<g id="n247" class="node"><ellipse cx="4886" cy="1347" rx="36" ry="24"/><text x="4886" y="1353">2</text></g>
<g id="n248" class="node"><ellipse cx="4982" cy="1347" rx="36" ry="24"/><text x="4982" y="1353">2</text></g>
<g id="n249" class="node"><ellipse cx="4616" cy="640" rx="66" ry="24"/><text x="4616" y="646">const_decl</text></g>
<g id="n250" class="node"><ellipse cx="4670" cy="768" rx="39" ry="24"/><text x="4670" y="774">decls</text></g>
<g id="n251" class="node"><ellipse cx="4973" cy="884" rx="36" ry="24"/><text x="4973" y="890">decl</text></g>
<g id="n252" class="node"><ellipse cx="5069" cy="884" rx="36" ry="24"/><text x="5069" y="890">decl</text></g>
<g id="n253" class="node"><ellipse cx="4930" cy="1000" rx="36" ry="24"/><text x="4930" y="1006">e</text></g>
<g id="n254" class="node"><ellipse cx="5026" cy="1000" rx="36" ry="24"/><text x="5026" y="1006">int</text></g>
<g id="n255" class="node"><ellipse cx="5122" cy="1000" rx="36" ry="24"/><text x="5122" y="1006">INT</text></g>
<g id="n256" class="node"><ellipse cx="5218" cy="1000" rx="36" ry="24"/><text x="5218" y="1006">f</text></g>
<g id="n257" class="node"><ellipse cx="5314" cy="1000" rx="36" ry="24"/><text x="5314" y="1006">INT</text></g>
<g id="n258" class="node"><ellipse cx="5122" cy="1116" rx="36" ry="24"/><text x="5122" y="1122">2</text></g>
<g id="n259" class="node"><ellipse cx="5314" cy="1116" rx="36" ry="24"/><text x="5314" y="1122">3</text></g>
<g id="n260" class="node"><ellipse cx="4769" cy="640" rx="58" ry="24"/><text x="4769" y="646">Func call</text></g>
<g id="n261" class="node"><ellipse cx="4771" cy="768" rx="38" ry="24"/><text x="4771" y="774">Print</text></g>
<g id="n262" class="node"><ellipse cx="4874" cy="768" rx="38" ry="24"/><text x="4874" y="774">Args</text></g>
<g id="n263" class="node"><ellipse cx="5165" cy="884" rx="36" ry="24"/><text x="5165" y="890">w</text></g>
<g id="n264" class="node"><ellipse cx="4973" cy="640" rx="58" ry="24"/><text x="4973" y="646">Func call</text></g>
<g id="n265" class="node"><ellipse cx="4975" cy="768" rx="38" ry="24"/><text x="4975" y="774">Print</text></g>
<g id="n266" class="node"><ellipse cx="5079" cy="768" rx="38" ry="24"/><text x="5079" y="774">Args</text></g>
<g id="n267" class="node"><ellipse cx="5261" cy="884" rx="36" ry="24"/><text x="5261" y="890">d</text></g>
<g id="n268" class="node"><ellipse cx="5177" cy="640" rx="58" ry="24"/><text x="5177" y="646">Func call</text></g>
<g id="n269" class="node"><ellipse cx="5179" cy="768" rx="38" ry="24"/><text x="5179" y="774">Print</text></g>
<g id="n270" class="node"><ellipse cx="5282" cy="768" rx="38" ry="24"/><text x="5282" y="774">Args</text></g>
<g id="n271" class="node"><ellipse cx="5356" cy="884" rx="36" ry="24"/><text x="5356" y="890">p</text></g>
<g id="n272" class="node"><ellipse cx="5469" cy="640" rx="45" ry="24"/><text x="5469" y="646">param</text></g>
<g id="n273" class="node"><ellipse cx="5581" cy="640" rx="45" ry="24"/><text x="5581" y="646">param</text></g>
<g id="n274" class="node"><ellipse cx="5382" cy="768" rx="36" ry="24"/><text x="5382" y="774">a</text></g>
<g id="n275" class="node"><ellipse cx="5477" cy="768" rx="36" ry="24"/><text x="5477" y="774">int</text></g>
<g id="n276" class="node"><ellipse cx="5574" cy="768" rx="36" ry="24"/><text x="5574" y="774">b</text></g>
<g id="n277" class="node"><ellipse cx="5670" cy="768" rx="36" ry="24"/><text x="5670" y="774">int</text></g>
<g id="n278" class="node"><ellipse cx="5783" cy="640" rx="41" ry="24"/><text x="5783" y="646">return</text></g>
<g id="n279" class="node"><ellipse cx="5788" cy="768" rx="58" ry="24"/><text x="5788" y="774">Func call</text></g>
<g id="n280" class="node"><ellipse cx="5683" cy="884" rx="36" ry="24"/><text x="5683" y="890">f</text></g>
<g id="n281" class="node"><ellipse cx="5791" cy="884" rx="38" ry="24"/><text x="5791" y="890">Args</text></g>
<g id="n282" class="node"><ellipse cx="5701" cy="1000" rx="36" ry="24"/><text x="5701" y="1006">a</text></g>
<g id="n283" class="node"><ellipse cx="5797" cy="1000" rx="36" ry="24"/><text x="5797" y="1006">b</text></g>
<g id="n284" class="node"><ellipse cx="5989" cy="640" rx="45" ry="24"/><text x="5989" y="646">param</text></g>
<g id="n285" class="node"><ellipse cx="6101" cy="640" rx="45" ry="24"/><text x="6101" y="646">param</text></g>
<g id="n286" class="node"><ellipse cx="5906" cy="768" rx="36" ry="24"/><text x="5906" y="774">a</text></g>
<g id="n287" class="node"><ellipse cx="6003" cy="768" rx="36" ry="24"/><text x="6003" y="774">int</text></g>
<g id="n288" class="node"><ellipse cx="6100" cy="768" rx="36" ry="24"/><text x="6100" y="774">b</text></g>
<g id="n289" class="node"><ellipse cx="6196" cy="768" rx="36" ry="24"/><text x="6196" y="774">int</text></g>
<g id="n290" class="node"><ellipse cx="6343" cy="640" rx="53" ry="24"/><text x="6343" y="646">var decl</text></g>
<g id="n291" class="node"><ellipse cx="6295" cy="768" rx="39" ry="24"/><text x="6295" y="774">decls</text></g>
<g id="n292" class="node"><ellipse cx="6043" cy="884" rx="36" ry="24"/><text x="6043" y="890">decl</text></g>
<g id="n293" class="node"><ellipse cx="6292" cy="884" rx="36" ry="24"/><text x="6292" y="890">decl</text></g>
<g id="n294" class="node"><ellipse cx="5907" cy="1000" rx="36" ry="24"/><text x="5907" y="1006">x</text></g>
<g id="n295" class="node"><ellipse cx="6003" cy="1000" rx="36" ry="24"/><text x="6003" y="1006">int</text></g>
<g id="n296" class="node"><ellipse cx="6099" cy="1000" rx="36" ry="24"/><text x="6099" y="1006">INT</text></g>
<g id="n297" class="node"><ellipse cx="6099" cy="1116" rx="36" ry="24"/><text x="6099" y="1122">1</text></g>
<g id="n298" class="node"><ellipse cx="6195" cy="1000" rx="36" ry="24"/><text x="6195" y="1006">y</text></g>
<g id="n299" class="node"><ellipse cx="6292" cy="1000" rx="36" ry="24"/><text x="6292" y="1006">int</text></g>
<g id="n300" class="node"><ellipse cx="6387" cy="1000" rx="36" ry="24"/><text x="6387" y="1006">INT</text></g>
<g id="n301" class="node"><ellipse cx="6387" cy="1116" rx="36" ry="24"/><text x="6387" y="1122">2</text></g>
<g id="n302" class="node"><ellipse cx="6477" cy="640" rx="36" ry="24"/><text x="6477" y="646">+=</text></g>
<g id="n303" class="node"><ellipse cx="6477" cy="768" rx="36" ry="24"/><text x="6477" y="774">0</text></g>
<g id="n304" class="node"><ellipse cx="6387" cy="884" rx="36" ry="24"/><text x="6387" y="890">x</text></g>
<g id="n305" class="node"><ellipse cx="6483" cy="884" rx="36" ry="24"/><text x="6483" y="890">INT</text></g>
<g id="n306" class="node"><ellipse cx="6483" cy="1000" rx="36" ry="24"/><text x="6483" y="1006">1</text></g>
<g id="n307" class="node"><ellipse cx="6590" cy="640" rx="53" ry="24"/><text x="6590" y="646">var decl</text></g>
<g id="n308" class="node"><ellipse cx="6590" cy="768" rx="36" ry="24"/><text x="6590" y="774">decl</text></g>
<g id="n309" class="node"><ellipse cx="6586" cy="884" rx="41" ry="24"/><text x="6586" y="890">count</text></g>
<g id="n310" class="node"><ellipse cx="6685" cy="884" rx="36" ry="24"/><text x="6685" y="890">INT</text></g>
<g id="n311" class="node"><ellipse cx="6684" cy="1000" rx="36" ry="24"/><text x="6684" y="1006">1</text></g>
<g id="n312" class="node"><ellipse cx="6958" cy="640" rx="56" ry="36"/><text x="6958" y="636">for<tspan x="6958" dy="20">(clause)</tspan></text></g>
<g id="n313" class="node"><ellipse cx="6825" cy="768" rx="38" ry="24"/><text x="6825" y="774">body</text></g>
<g id="n314" class="node"><ellipse cx="6958" cy="768" rx="46" ry="24"/><text x="6958" y="774">Less &lt;</text></g>
<g id="n315" class="node"><ellipse cx="7079" cy="768" rx="36" ry="24"/><text x="7079" y="774">stmt</text></g>
<g id="n316" class="node"><ellipse cx="7177" cy="768" rx="36" ry="24"/><text x="7177" y="774">stmt</text></g>
<g id="n317" class="node"><ellipse cx="6782" cy="884" rx="36" ry="24"/><text x="6782" y="890">stmt</text></g>
<g id="n318" class="node"><ellipse cx="6879" cy="884" rx="36" ry="24"/><text x="6879" y="890">i</text></g>
<g id="n319" class="node"><ellipse cx="6980" cy="884" rx="41" ry="24"/><text x="6980" y="890">count</text></g>
<g id="n320" class="node"><ellipse cx="7098" cy="884" rx="53" ry="24"/><text x="7098" y="890">var decl</text></g>
<g id="n321" class="node"><ellipse cx="7211" cy="884" rx="36" ry="24"/><text x="7211" y="890">++</text></g>
<g id="n322" class="node"><ellipse cx="6785" cy="1000" rx="41" ry="24"/><text x="6785" y="1006">break</text></g>
<g id="n323" class="node"><ellipse cx="7098" cy="1000" rx="36" ry="24"/><text x="7098" y="1006">decl</text></g>
<g id="n324" class="node"><ellipse cx="7211" cy="1000" rx="36" ry="24"/><text x="7211" y="1006">i</text></g>
<g id="n325" class="node"><ellipse cx="7049" cy="1116" rx="36" ry="24"/><text x="7049" y="1122">i</text></g>
<g id="n326" class="node"><ellipse cx="7146" cy="1116" rx="36" ry="24"/><text x="7146" y="1122">INT</text></g>
<g id="n327" class="node"><ellipse cx="7146" cy="1232" rx="36" ry="24"/><text x="7146" y="1238">0</text></g>
<g id="n328" class="node"><ellipse cx="7174" cy="640" rx="41" ry="24"/><text x="7174" y="646">return</text></g>
<g id="n329" class="node"><ellipse cx="7307" cy="768" rx="45" ry="24"/><text x="7307" y="774">Plus +</text></g>
<g id="n330" class="node"><ellipse cx="7307" cy="884" rx="36" ry="24"/><text x="7307" y="890">x</text></g>
<g id="n331" class="node"><ellipse cx="7402" cy="884" rx="36" ry="24"/><text x="7402" y="890">y</text></g>
</g>
</svg>
